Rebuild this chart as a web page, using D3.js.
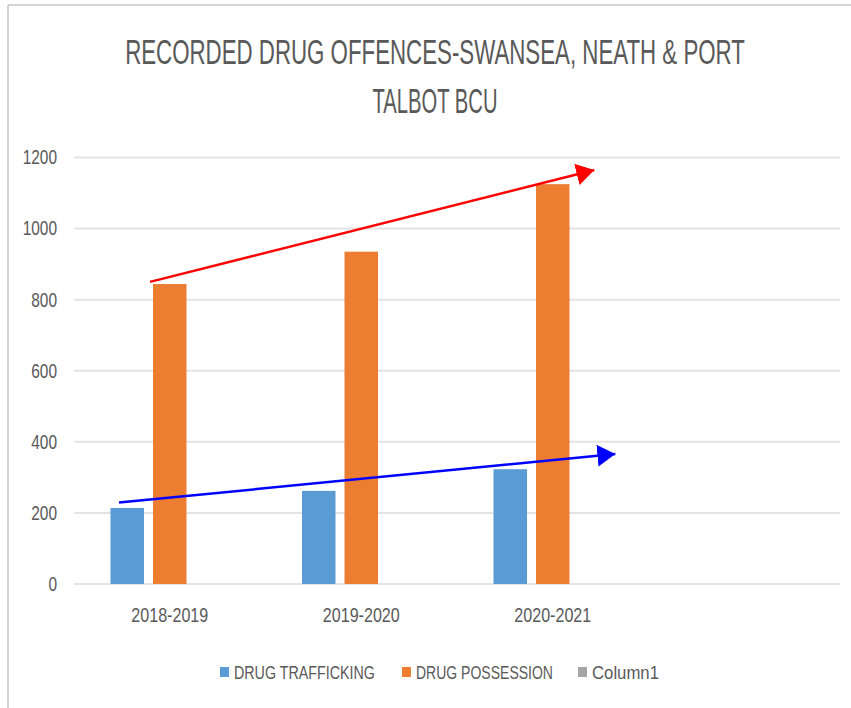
<!DOCTYPE html>
<html>
<head>
<meta charset="utf-8">
<script src="https://cdn.jsdelivr.net/npm/d3@7"></script>
<style>
  body { margin: 0; background: #fff; }
  svg text { font-family: "Liberation Sans", Arial, sans-serif; fill: #595959; }
</style>
</head>
<body>
<div id="chart"></div>
<script>
    // values
    const categories = ["2018-2019", "2019-2020", "2020-2021", ""];
    const seriesNames = ["DRUG TRAFFICKING", "DRUG POSSESSION", "Column1"];
    const trafficking = [214, 262, 323];
    const possession = [844, 935, 1125];
    const column1 = [];
    const yTicks = [0, 200, 400, 600, 800, 1000, 1200];
    const colors = ["#5b9bd5", "#ed7d31", "#a5a5a5"];

    // trend arrows drawn on top (x in category units, y in data units)
    const redArrow = [[0.397, 850], [2.717, 1165]];
    const blueArrow = [[0.235, 229], [2.827, 366]];

    const width = 851, height = 708;
    const svg = d3.select("#chart").append("svg")
        .attr("width", width)
        .attr("height", height);

    // the picture is squashed sideways, so squeeze texts to the measured widths
    function squeeze(sel, lenFn) {
        sel.each(function (d) {
            const t = d3.select(this);
            const L = this.getComputedTextLength();
            const target = lenFn(d);
            if (!L || !target) return;
            const s = target / L;
            const x = +t.attr("x") || 0, y = +t.attr("y") || 0;
            t.attr("transform", `translate(${x},${y}) scale(${s},1) translate(${-x},${-y})`);
        });
    }

    // outer border of the chart area
    svg.append("line").attr("x1", 8).attr("x2", width).attr("y1", 5).attr("y2", 5)
        .attr("stroke", "#d4d4d4").attr("stroke-width", 2);
    svg.append("line").attr("x1", 8).attr("x2", 8).attr("y1", 5).attr("y2", height)
        .attr("stroke", "#d4d4d4").attr("stroke-width", 2);

    // title
    const titleLines = [
        { text: "RECORDED DRUG OFFENCES-SWANSEA, NEATH & PORT", y: 64, len: 620 },
        { text: "TALBOT BCU", y: 113, len: 125 }
    ];
    const title = svg.selectAll(".title")
        .data(titleLines)
        .enter()
        .append("text")
        .attr("class", "title")
        .attr("x", 435)
        .attr("y", d => d.y)
        .attr("text-anchor", "middle")
        .attr("font-size", 35)
        .text(d => d.text);
    squeeze(title, d => d.len);

    const plotLeft = 74, plotRight = 840;
    const y = d3.scaleLinear().domain([0, 1200]).range([584, 157.5]);
    const x0 = d3.scaleBand().domain(categories).range([plotLeft, plotRight]).padding(0);
    const x1 = d3.scaleBand().domain(seriesNames).range([0, x0.bandwidth()])
        .paddingInner(0.212).paddingOuter(0.859);
    const xPos = d3.scaleLinear().domain([0, categories.length]).range([plotLeft, plotRight]);

    // gridlines
    svg.selectAll(".grid")
        .data(yTicks)
        .enter()
        .append("line")
        .attr("class", "grid")
        .attr("x1", plotLeft)
        .attr("x2", plotRight)
        .attr("y1", d => y(d))
        .attr("y2", d => y(d))
        .attr("stroke", "#e3e3e3")
        .attr("stroke-width", 2);

    // y axis labels
    const yAxis = svg.append("g")
        .attr("transform", `translate(${plotLeft - 17},0)`)
        .call(d3.axisLeft(y).tickValues(yTicks).tickFormat(d3.format("d")).tickSize(0).tickPadding(0));
    yAxis.select(".domain").remove();
    const yLabels = yAxis.selectAll("text")
        .attr("font-size", 20)
        .attr("fill", "#595959")
        .attr("font-family", "Liberation Sans, Arial, sans-serif");
    squeeze(yLabels, d => String(d).length * 8.6);

    // x axis labels
    const xAxis = svg.append("g")
        .attr("transform", `translate(0,${y(0)})`)
        .call(d3.axisBottom(x0).tickSize(0).tickPadding(0));
    xAxis.select(".domain").remove();
    const xLabels = xAxis.selectAll("text")
        .attr("dy", 0)
        .attr("y", 38)
        .attr("font-size", 20)
        .attr("fill", "#4a4a4a")
        .attr("font-family", "Liberation Sans, Arial, sans-serif");
    squeeze(xLabels, d => d ? 77 : 0);

    // bars
    const rows = categories.map((c, i) => ({
        cat: c,
        vals: [trafficking[i], possession[i], column1[i]]
    }));
    const groups = svg.selectAll(".group")
        .data(rows)
        .enter()
        .append("g")
        .attr("class", "group")
        .attr("transform", d => `translate(${x0(d.cat)},0)`);
    groups.selectAll("rect")
        .data(d => d.vals.map((v, j) => ({ name: seriesNames[j], v: v, j: j })).filter(e => e.v != null))
        .enter()
        .append("rect")
        .attr("x", d => x1(d.name))
        .attr("y", d => y(d.v))
        .attr("width", x1.bandwidth())
        .attr("height", d => y(0) - y(d.v))
        .attr("fill", d => colors[d.j]);

    // arrows
    const defs = svg.append("defs");
    [["red", "#ff0000"], ["blue", "#0000ff"]].forEach(([id, col]) => {
        defs.append("marker")
            .attr("id", "head-" + id)
            .attr("markerUnits", "userSpaceOnUse")
            .attr("viewBox", "0 0 18 22")
            .attr("refX", 18)
            .attr("refY", 11)
            .attr("markerWidth", 18)
            .attr("markerHeight", 22)
            .attr("orient", "auto")
            .append("path")
            .attr("d", "M0,0 L18,11 L0,22 Z")
            .attr("fill", col);
    });
    const arrows = [
        { pts: redArrow, col: "#ff0000", id: "red" },
        { pts: blueArrow, col: "#0000ff", id: "blue" }
    ];
    svg.selectAll(".arrow")
        .data(arrows)
        .enter()
        .append("line")
        .attr("class", "arrow")
        .attr("x1", d => xPos(d.pts[0][0]))
        .attr("y1", d => y(d.pts[0][1]))
        .attr("x2", d => xPos(d.pts[1][0]))
        .attr("y2", d => y(d.pts[1][1]))
        .attr("stroke", d => d.col)
        .attr("stroke-width", 2.5)
        .attr("marker-end", d => `url(#head-${d.id})`);

    // legend
    const legendItems = [
        { name: seriesNames[0], x: 220, len: 141 },
        { name: seriesNames[1], x: 402, len: 137 },
        { name: seriesNames[2], x: 578, len: 67 }
    ];
    const legend = svg.selectAll(".legend")
        .data(legendItems)
        .enter()
        .append("g")
        .attr("class", "legend")
        .attr("transform", d => `translate(${d.x},672)`);
    legend.append("rect")
        .attr("x", 0)
        .attr("y", -5)
        .attr("width", 9)
        .attr("height", 10)
        .attr("fill", (d, i) => colors[i]);
    const legendText = legend.append("text")
        .attr("x", 14)
        .attr("y", 7)
        .attr("font-size", 19)
        .text(d => d.name);
    squeeze(legendText, d => d.len);
</script>
</body>
</html>
